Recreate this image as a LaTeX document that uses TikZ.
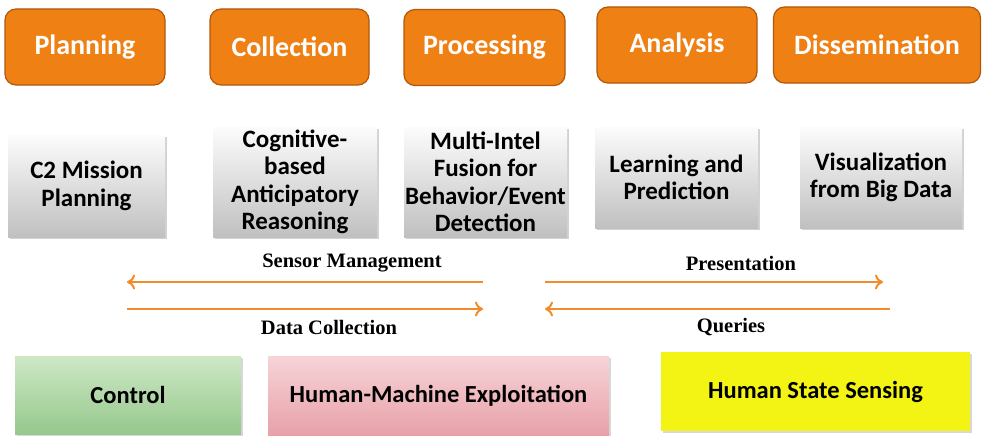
\documentclass[tikz,border=0pt]{standalone}
\usepackage{fontspec}
\setmainfont{Carlito}
\newfontfamily\labelfont{Liberation Serif}
\usetikzlibrary{shadows,arrows.meta}
\definecolor{phaseorange}{RGB}{239,128,20}
\definecolor{phaseedge}{RGB}{178,88,12}
\definecolor{flowline}{RGB}{242,140,40}
\definecolor{grayhi}{RGB}{252,252,252}
\definecolor{graylo}{RGB}{192,192,192}
\definecolor{greenhi}{RGB}{206,232,198}
\definecolor{greenlo}{RGB}{150,200,140}
\definecolor{pinkhi}{RGB}{246,212,216}
\definecolor{pinklo}{RGB}{232,160,168}
\definecolor{signyellow}{RGB}{244,244,20}
\tikzset{
  phase/.style={draw=phaseedge, line width=1.2pt, fill=phaseorange, rounded corners=11pt,
    text=white, font=\fontsize{28}{32}\selectfont\bfseries, minimum height=76pt},
  task/.style={top color=grayhi, bottom color=graylo, align=center,
    font=\fontsize{25}{27.5}\selectfont\bfseries, inner sep=0pt,
    drop shadow={opacity=0.35, shadow xshift=2pt, shadow yshift=-2pt}},
  layer/.style={align=center, font=\fontsize{24.5}{28}\selectfont\bfseries, inner sep=0pt,
    drop shadow={opacity=0.3, shadow xshift=2pt, shadow yshift=-2pt}},
  flow/.style={draw=flowline, line width=2.2pt, -{To[length=8pt,width=15pt,line width=2pt]}},
  flowlabel/.style={font=\labelfont\fontsize{20.5}{24}\selectfont\bfseries}
}
\begin{document}
\begin{tikzpicture}[x=1pt,y=-1pt]
\fill[white] (0,0) rectangle (982,436);
\useasboundingbox (0,0) rectangle (982,436);

% phases of the cycle
\node[phase, minimum width=160pt] (plan) at (85,47) {Planning};
\node[phase, minimum width=159pt] (coll) at (289.5,47) {Collection};
\node[phase, minimum width=161pt] (proc) at (484.5,47.5) {Processing};
\node[phase, minimum width=160pt] (anal) at (677,45) {Analysis};
\node[phase, minimum width=207pt] (diss) at (877,45) {Dissemination};

% research areas under each phase
\node[task, minimum width=157pt, minimum height=102pt] (c2) at (86.5,186) {C2 Mission\\Planning};
\node[task, minimum width=164pt, minimum height=110pt] (cog) at (295,182) {Cognitive-\\based\\Anticipatory\\Reasoning};
\node[task, minimum width=163pt, minimum height=110pt] (fus) at (485.5,182) {Multi-Intel\\Fusion for\\Behavior/Event\\Detection};
\node[task, minimum width=163pt, minimum height=101pt] (learn) at (676.5,177.5) {Learning and\\Prediction};
\node[task, minimum width=162pt, minimum height=101pt] (vis) at (881,177.5) {Visualization\\from Big Data};

% information flows
\coordinate (smR) at (483,282);
\coordinate (smL) at (127,282);
\coordinate (dcL) at (127,309);
\coordinate (dcR) at (483,309);
\coordinate (prL) at (545,282);
\coordinate (prR) at (883,282);
\coordinate (quR) at (890,309);
\coordinate (quL) at (545,309);
\draw[flow] (smR) -- (smL);
\draw[flow] (dcL) -- (dcR);
\draw[flow] (prL) -- (prR);
\draw[flow] (quR) -- (quL);
\node[flowlabel] (smlab) at (352,263) {Sensor Management};
\node[flowlabel] (dclab) at (329,327) {Data Collection};
\node[flowlabel] (prlab) at (741,263) {Presentation};
\node[flowlabel] (qulab) at (731,327) {Queries};

% supporting layers
\node[layer, top color=greenhi, bottom color=greenlo, minimum width=226pt, minimum height=78pt] (ctrl) at (128,395) {Control};
\node[layer, top color=pinkhi, bottom color=pinklo, minimum width=341pt, minimum height=80pt] (hme) at (438.5,396) {Human-Machine Exploitation};
\node[layer, fill=signyellow, minimum width=309pt, minimum height=79pt] (hss) at (815.5,391.5) {Human State Sensing};
\end{tikzpicture}
\end{document}
